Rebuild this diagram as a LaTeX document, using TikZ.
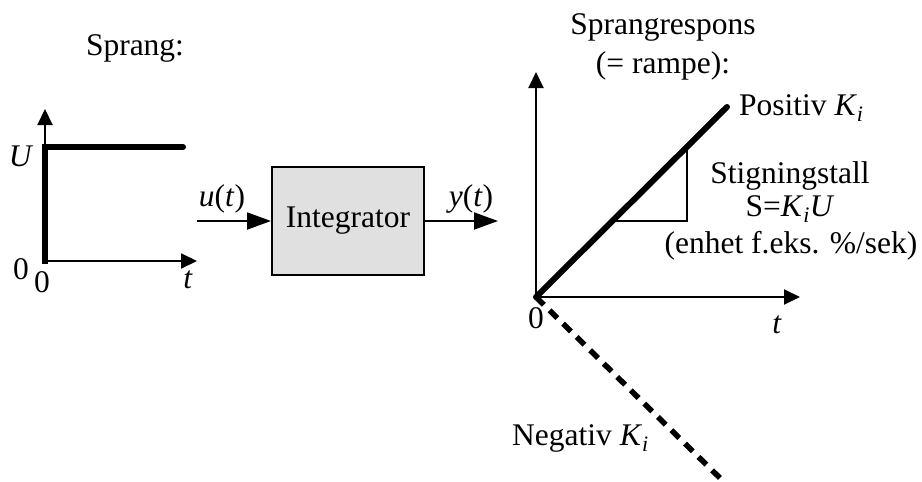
\documentclass[tikz,border=0pt]{standalone}
\usepackage{fontspec}
\setmainfont{Liberation Serif}
\usetikzlibrary{arrows.meta}
\newcommand{\Ki}{\textit{K}\textsubscript{\textit{i}}}
\begin{document}
\begin{tikzpicture}[x=1pt,y=-1pt,
  every node/.style={font=\fontsize{31.5}{36}\selectfont, inner sep=0pt},
  lbl/.style={anchor=base},
  lblw/.style={anchor=base west},
  thinln/.style={line width=2pt},
  thickln/.style={line width=6pt, line cap=round},
  axisarr/.style={thinln, -{Triangle[length=16pt,width=15pt]}},
  sigarr/.style={thinln, -{Triangle[length=24pt,width=17pt]}},
  blockbox/.style={draw, line width=2pt, fill=black!12, minimum width=152pt, minimum height=108pt}]
\useasboundingbox (0,0) rectangle (922,482);
% left graph
\coordinate (lo) at (45,261);
\coordinate (lyt) at (45,109);
\coordinate (lxt) at (197,261);
\coordinate (lu) at (45,147);
\coordinate (lue) at (183,147);
\draw[axisarr] (lo) -- (lyt);
\draw[axisarr] (lo) -- (lxt);
\draw[thickln, line cap=butt] (45,264) -- (lu) -- (lue);
\draw[thickln, line cap=round] (lue) -- (lue);
\node[lbl] (sprang) at (135,55) {Sprang:};
\node[lbl] (U) at (21,166) {\textit{U}};
\node[lbl] (z1) at (21,279) {0};
\node[lbl] (z2) at (42,292) {0};
\node[lbl] (t1) at (188,288) {\textit{t}};
% block
\node[blockbox] (int) at (348,221) {Integrator};
\coordinate (uin) at (197,221);
\coordinate (yout) at (498,221);
\draw[sigarr] (uin) -- (int.west);
\draw[sigarr] (int.east) -- (yout);
\node[lbl] (ut) at (222,206) {\textit{u}(\textit{t})};
\node[lbl] (yt) at (471,206) {\textit{y}(\textit{t})};
% right graph
\coordinate (ro) at (536,297);
\coordinate (ryt) at (536,72);
\coordinate (rxt) at (800,297);
\coordinate (pend) at (727,107);
\coordinate (nend) at (724,482);
\coordinate (ta) at (687,146);
\coordinate (tb) at (687,221);
\coordinate (tc) at (612,221);
\draw[axisarr] (ro) -- (ryt);
\draw[axisarr] (ro) -- (rxt);
\draw[thinln] (ta) -- (tb) -- (tc);
\draw[thickln] (ro) -- (pend);
\draw[line width=5.5pt, dash pattern=on 11pt off 8pt] (ro) -- (nend);
\node[lbl] (sr) at (663,34) {Sprangrespons};
\node[lbl] (ramp) at (663,73) {(= rampe):};
\node[lblw] (pos) at (739,115) {Positiv \Ki};
\node[lbl] (stig) at (790,183) {Stigningstall};
\node[lbl] (S) at (790,216) {S=\Ki\textit{U}};
\node[lbl] (enh) at (791,253) {(enhet f.eks. \%/sek)};
\node[lbl] (z3) at (536,328) {0};
\node[lbl] (t2) at (777,333) {\textit{t}};
\node[lblw] (neg) at (512,445) {Negativ \Ki};
\end{tikzpicture}
\end{document}
